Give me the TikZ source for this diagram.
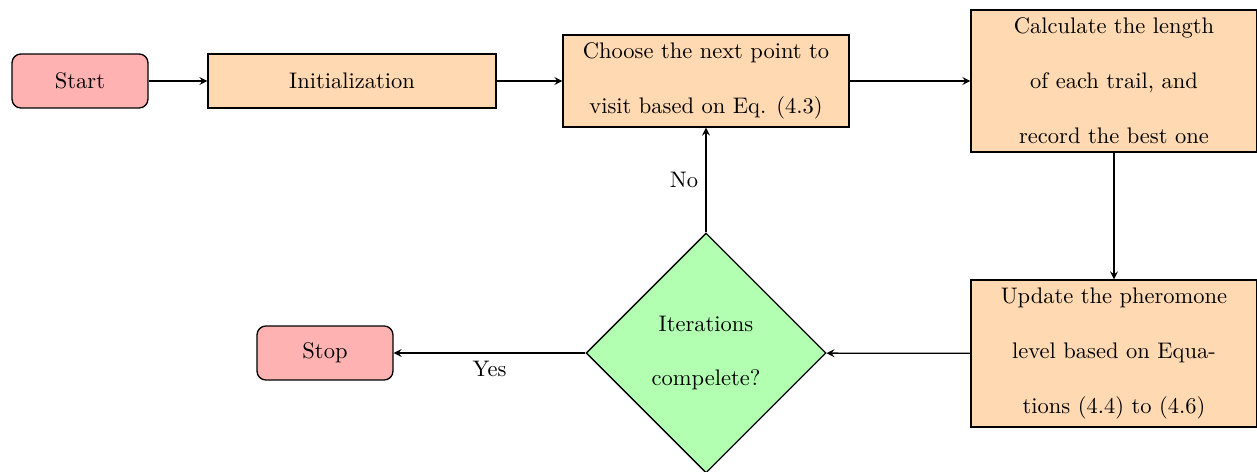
\documentclass[tikz,border=0pt]{standalone}
\usetikzlibrary{shapes.geometric,arrows}
\tikzset{
  base/.style={draw=black, semithick, align=center, inner sep=0pt,
    font={\fontsize{10.25pt}{25pt}\selectfont}},
  startstop/.style={base, rounded corners=4pt, fill=red!30,
    minimum width=2.176cm, minimum height=0.864cm},
  process/.style={base, fill=orange!30, minimum width=4.576cm},
  decision/.style={base, diamond, aspect=1, fill=green!30,
    minimum width=3.84cm, minimum height=3.84cm},
  flow/.style={semithick, ->, >=stealth},
  edgelabel/.style={font={\fontsize{10.25pt}{12pt}\selectfont}},
}
\begin{document}
\begin{tikzpicture}[x=0.016cm, y=-0.016cm]
  \useasboundingbox (0,0) rectangle (1257,472);

  \node[startstop] (start) at (80,81) {Start};
  \node[process, minimum width=4.608cm, minimum height=0.864cm] (init) at (352,81) {Initialization};
  \node[process, minimum height=1.472cm] (choose) at (706,81)
    {Choose the next point to\\visit based on Eq. (4.3)};
  \node[process, minimum height=2.272cm] (calc) at (1114,81)
    {Calculate the length\\of each trail, and\\record the best one};
  \node[process, minimum height=2.352cm] (update) at (1114,353.5)
    {Update the pheromone\\level based on Equa-\\tions (4.4) to (4.6)};
  \node[decision] (dec) at (706,353) {Iterations\\compelete?};
  \node[startstop] (stop) at (325,353) {Stop};

  \draw[flow] (start) -- (init);
  \draw[flow] (init) -- (choose);
  \draw[flow] (choose) -- (calc);
  \draw[flow] (calc) -- (update);
  \draw[flow] (update) -- (dec);
  \draw[flow] (dec) -- node[below, edgelabel] {Yes} (stop);
  \draw[flow] (dec) -- node[left, edgelabel] {No} (choose);
\end{tikzpicture}
\end{document}
